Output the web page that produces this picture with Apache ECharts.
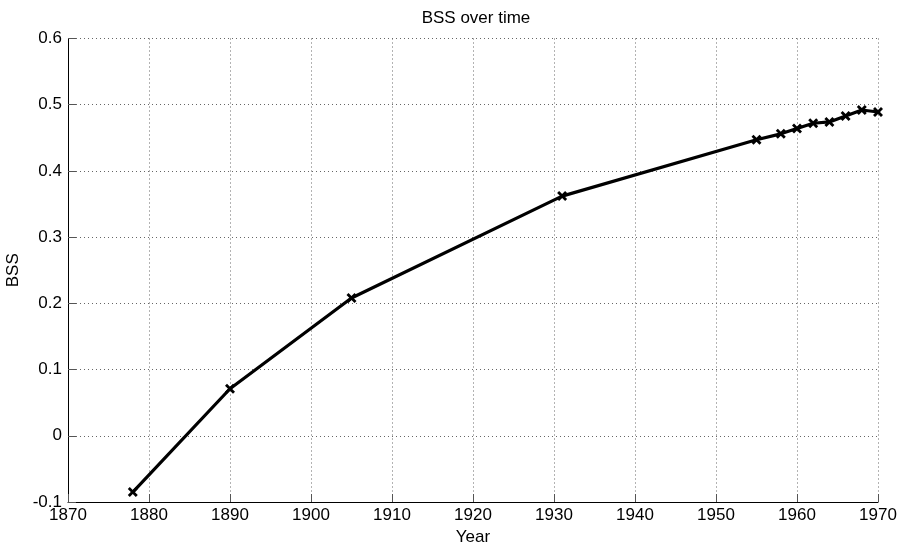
<!DOCTYPE html>
<html>
<head>
<meta charset="utf-8">
<script src="https://cdn.jsdelivr.net/npm/echarts@6/dist/echarts.min.js"></script>
<style>
html,body{margin:0;padding:0;background:#fff;}
#chart{width:898px;height:549px;}
</style>
</head>
<body>
<div id="chart"></div>
<script>
const years = [1878, 1890, 1905, 1931, 1955, 1958, 1960, 1962, 1964, 1966, 1968, 1970];
const bss = [-0.085, 0.071, 0.208, 0.362, 0.447, 0.456, 0.464, 0.472, 0.474, 0.483, 0.492, 0.489];
const xTicks = [1870, 1880, 1890, 1900, 1910, 1920, 1930, 1940, 1950, 1960, 1970];
const yTicks = [-0.1, 0, 0.1, 0.2, 0.3, 0.4, 0.5, 0.6];

const font = 'Liberation Sans, Arial, sans-serif';
const chart = echarts.init(document.getElementById('chart'), null, {renderer: 'canvas'});
const gridLine = {show: true, lineStyle: {color: '#666', type: [1, 3], width: 1}};
chart.setOption({
  animation: false,
  backgroundColor: '#fff',
  title: {
    text: 'BSS over time', left: 471, top: 5, textAlign: 'center',
    textStyle: {fontFamily: font, fontSize: 17, fontWeight: 'normal', color: '#000'}
  },
  grid: {left: 68, right: 20, top: 38.5, bottom: 47, containLabel: false, outerBoundsMode: 'none'},
  xAxis: {
    type: 'value', min: xTicks[0], max: xTicks[xTicks.length - 1], interval: 10,
    name: 'Year', nameLocation: 'middle', nameGap: 22,
    nameTextStyle: {fontFamily: font, fontSize: 17, color: '#000'},
    axisLine: {show: true, onZero: false, lineStyle: {color: '#000', width: 1}},
    axisTick: {show: true, inside: true, length: 8, lineStyle: {color: '#555', width: 1}},
    axisLabel: {fontFamily: font, fontSize: 17, color: '#000', margin: 5, formatter: v => String(v)},
    splitLine: gridLine
  },
  yAxis: {
    type: 'value', min: yTicks[0], max: yTicks[yTicks.length - 1], interval: 0.1,
    name: 'BSS', nameLocation: 'middle', nameGap: 43, nameRotate: 90,
    nameTextStyle: {fontFamily: font, fontSize: 17, color: '#000'},
    axisLine: {show: true, onZero: false, lineStyle: {color: '#000', width: 1}},
    axisTick: {show: true, inside: true, length: 8, lineStyle: {color: '#555', width: 1}},
    axisLabel: {fontFamily: font, fontSize: 17, color: '#000', margin: 6,
      formatter: v => { const r = Math.round(v * 10) / 10; return r === 0 ? '0' : String(r); }},
    splitLine: gridLine
  },
  series: [{
    type: 'line',
    data: years.map((y, i) => [y, bss[i]]),
    lineStyle: {color: '#000', width: 3.2},
    symbol: 'path://M0,2L2,0L5,3L8,0L10,2L7,5L10,8L8,10L5,7L2,10L0,8L3,5Z',
    symbolSize: 10,
    itemStyle: {color: '#000'},
    clip: false
  }]
});
</script>
</body>
</html>
